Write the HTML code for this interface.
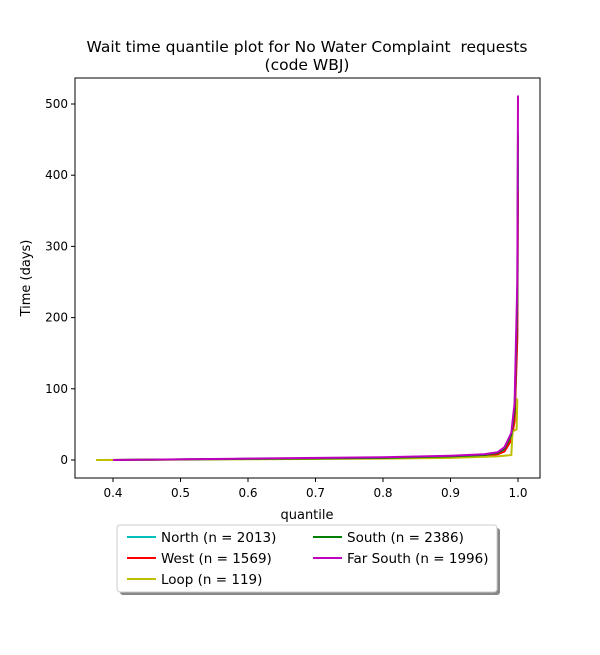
<!DOCTYPE html>
<html><head><meta charset="utf-8"><style>
body{margin:0;background:#fff;font-family:"Liberation Sans","DejaVu Sans",sans-serif}
svg text{font-family:"DejaVu Sans","Liberation Sans",sans-serif}
</style></head><body>
<svg id="c" width="600" height="650">
<rect width="600" height="650" fill="#fff"/>
<text x="307" y="52" text-anchor="middle" font-size="15.5">Wait time quantile plot for No Water Complaint&#160; requests</text>
<text x="307" y="70" text-anchor="middle" font-size="15.5">(code WBJ)</text>
<g id="plot"></g>
<rect x="75" y="78" width="465" height="400" fill="none" stroke="#000" stroke-width="1"/>
<g id="axes"></g>
<text x="307" y="519" text-anchor="middle" font-size="13">quantile</text>
<text transform="translate(30,278) rotate(-90)" text-anchor="middle" font-size="13">Time (days)</text>
<g>
<rect x="120" y="528" width="380" height="67" rx="3" fill="#888"/>
<rect x="117" y="525" width="380" height="67" rx="3" fill="#fff" stroke="#ccc"/>
<g id="legend"></g>
</g>
</svg>
<script>
const xTicks=[0.4,0.5,0.6,0.7,0.8,0.9,1.0];
const yTicks=[0,100,200,300,400,500];
const seriesNames=["North (n = 2013)","West (n = 1569)","Loop (n = 119)","South (n = 2386)","Far South (n = 1996)"];
const seriesColors=["#00bfbf","#ff0000","#bfbf00","#008000","#bf00bf"];
const northQ=[0.4,0.6,0.8,0.9,0.95,0.97,0.98,0.99,0.995,0.999,1.0];
const northV=[0,1.5,3,5,7,9,14,30,60,180,420];
const westQ=[0.4,0.6,0.8,0.9,0.95,0.97,0.98,0.99,0.995,0.999,1.0];
const westV=[0,1.5,3,5,6,8,12,28,55,170,380];
const loopQ=[0.375,0.5,0.8,0.9,0.97,0.99,0.992,0.998,0.999,1.0];
const loopV=[0,0.5,2,3,5,7,40,43,85,85];
const southQ=[0.4,0.6,0.8,0.9,0.95,0.97,0.98,0.99,0.995,0.999,1.0];
const southV=[0,1.5,3,5,7,10,16,35,70,220,460];
const farSouthQ=[0.4,0.6,0.8,0.9,0.95,0.97,0.98,0.99,0.995,0.999,1.0];
const farSouthV=[0,2,4,6,8,11,18,38,80,250,512];
const seriesQ=[northQ,westQ,loopQ,southQ,farSouthQ];
const seriesV=[northV,westV,loopV,southV,farSouthV];
const X=q=>113+(q-0.4)*675;
const Y=v=>460-v*0.712;
const NS="http://www.w3.org/2000/svg";
const plot=document.getElementById('plot'),axes=document.getElementById('axes'),leg=document.getElementById('legend');
function mk(t,a,p){const e=document.createElementNS(NS,t);for(const k in a)e.setAttribute(k,a[k]);p.appendChild(e);return e;}
seriesQ.forEach((qs,i)=>{
  const d=qs.map((q,j)=>(j?'L':'M')+X(q).toFixed(1)+','+Y(seriesV[i][j]).toFixed(1)).join(' ');
  const p=mk('path',{d:d,fill:'none',stroke:seriesColors[i],'stroke-width':2},plot);
  
  
});
xTicks.forEach(t=>{
  mk('line',{x1:X(t),x2:X(t),y1:478,y2:482,stroke:'#000'},axes);
  const tx=mk('text',{x:X(t),y:497,'text-anchor':'middle','font-size':12},axes);tx.textContent=t.toFixed(1);
  
  
});
yTicks.forEach(t=>{
  mk('line',{x1:71,x2:75,y1:Y(t),y2:Y(t),stroke:'#000'},axes);
  const tx=mk('text',{x:68,y:Y(t)+4,'text-anchor':'end','font-size':12},axes);tx.textContent=t;
  
  
});
const pos=[[127,537],[127,558],[127,579],[313,537],[313,558]];
seriesNames.forEach((n,i)=>{
  const [x,y]=pos[i];
  mk('line',{x1:x,x2:x+29,y1:y,y2:y,stroke:seriesColors[i],'stroke-width':2},leg);
  const tx=mk('text',{x:x+34,y:y+5,'font-size':13.5},leg);tx.textContent=n;
  
  
});
</script>
</body></html>
